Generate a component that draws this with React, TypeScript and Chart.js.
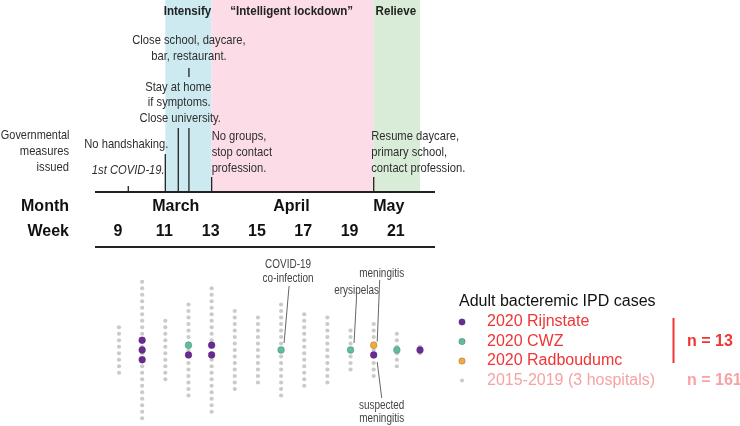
import React, { useEffect, useRef } from 'react';
import { Chart, registerables } from 'chart.js';

Chart.register(...registerables);

// ---------- data ----------
const weeks = [9, 10, 11, 12, 13, 14, 15, 16, 17, 18, 19, 20, 21, 22];
const historicCounts = [8, 22, 10, 15, 20, 13, 11, 15, 12, 11, 7, 9, 6, 2];
const rijnstateCounts = [0, 3, 0, 1, 2, 0, 0, 0, 0, 0, 0, 1, 0, 1];
const cwzCounts = [0, 0, 0, 1, 0, 0, 0, 1, 0, 0, 1, 0, 1, 0];
const radboudCounts = [0, 0, 0, 0, 0, 0, 0, 0, 0, 0, 0, 1, 0, 0];

const weekTickLabels = [9, 11, 13, 15, 17, 19, 21];
const monthLabels = ['March', 'April', 'May'];
const monthWeeks = [11.45, 16.45, 20.65];

const phaseLabels = ['Intensify', '\u201CIntelligent lockdown\u201D', 'Relieve'];
const phaseStarts = [11, 13, 20];
const phaseEnds = [13, 20, 22];

const measureWeeks = [9.4, 11.0, 11.56, 12.02, 13.0, 20.0];

const seriesLabels = ['2020 Rijnstate', '2020 CWZ', '2020 Radboudumc', '2015-2019 (3 hospitals)'];
const totalLabels = ['n = 13', 'n = 161'];

// ---------- styles ----------
const SANS = '"Liberation Sans", Arial, Helvetica, sans-serif';
const PURPLE = '#6b2a93';
const GREEN = '#5dbf98';
const ORANGE = '#f6a93b';
const GREY = '#cacaca';
const PHASE_COLORS = ['#cdeaf1', '#fbdce7', '#d9ecd7'];
const RED = '#ef3535';
const LIGHT_RED = '#f5a3a3';
const INK = '#222222';
const TXT = '#2e2e2e';

function txt(
  ctx: CanvasRenderingContext2D,
  s: string,
  x: number,
  y: number,
  font: string,
  color: string,
  align: CanvasTextAlign = 'center',
  sx = 1
) {
  ctx.save();
  ctx.font = font;
  ctx.fillStyle = color;
  ctx.textAlign = align;
  ctx.textBaseline = 'middle';
  ctx.translate(x, y);
  ctx.scale(sx, 1);
  ctx.fillText(s, 0, 0);
  ctx.restore();
}

function line(ctx: CanvasRenderingContext2D, x1: number, y1: number, x2: number, y2: number, w: number, c: string) {
  ctx.save();
  ctx.strokeStyle = c;
  ctx.lineWidth = w;
  ctx.beginPath();
  ctx.moveTo(x1, y1);
  ctx.lineTo(x2, y2);
  ctx.stroke();
  ctx.restore();
}

export default function App() {
  const ref = useRef<HTMLCanvasElement>(null);

  useEffect(() => {
    const canvas = ref.current!;

    const colored: Record<string, { x: number; y: number }[]> = { rijn: [], cwz: [], radboud: [] };
    weeks.forEach((w, j) => {
      const stack: string[] = [
        ...Array(cwzCounts[j]).fill('cwz'),
        ...Array(radboudCounts[j]).fill('radboud'),
        ...Array(rijnstateCounts[j]).fill('rijn'),
      ];
      const n = stack.length;
      stack.forEach((k, i) => colored[k].push({ x: w, y: ((n - 1) / 2 - i) * 1.5 }));
    });
    const greyPts: { x: number; y: number }[] = [];
    weeks.forEach((w, j) => {
      const n = historicCounts[j];
      for (let i = 0; i < n; i++) greyPts.push({ x: w, y: (n - 1) / 2 - i });
    });

    const annot = {
      id: 'annot',
      beforeDatasetsDraw(chart: any) {
        const ctx: CanvasRenderingContext2D = chart.ctx;
        const X = (v: number) => chart.scales.x.getPixelForValue(v);
        phaseStarts.forEach((s, i) => {
          ctx.fillStyle = PHASE_COLORS[i];
          ctx.fillRect(X(s), 0, X(phaseEnds[i]) - X(s), 192);
        });
      },
      afterDraw(chart: any) {
        const ctx: CanvasRenderingContext2D = chart.ctx;
        const X = (v: number) => chart.scales.x.getPixelForValue(v);
        const Y = (v: number) => chart.scales.y.getPixelForValue(v);

        // phase titles
        phaseLabels.forEach((l, i) => {
          txt(ctx, l, (X(phaseStarts[i]) + X(phaseEnds[i])) / 2 - 1, 11, `bold 13px ${SANS}`, INK, 'center', 0.89);
        });

        // axis lines
        line(ctx, 95, 192, 435, 192, 2, INK);
        line(ctx, 95, 247, 435, 247, 2, INK);

        // measure ticks
        const tk = (w: number, y1: number) => line(ctx, X(w), y1, X(w), 192, 1.3, INK);
        tk(measureWeeks[0], 186);
        tk(measureWeeks[1], 154);
        tk(measureWeeks[2], 128);
        tk(measureWeeks[3], 128);
        tk(measureWeeks[4], 177);
        tk(measureWeeks[5], 177);
        line(ctx, X(measureWeeks[3]), 68, X(measureWeeks[3]), 77, 1.3, INK);

        const AF = `13.5px ${SANS}`;
        const SX = 0.83;
        txt(ctx, 'Governmental', 69.5, 135, AF, TXT, 'right', 0.81);
        txt(ctx, 'measures', 69, 151, AF, TXT, 'right', SX);
        txt(ctx, 'issued', 69, 167, AF, TXT, 'right', SX);
        txt(ctx, '1st COVID-19.', X(measureWeeks[0]), 170, `italic 13.5px ${SANS}`, TXT, 'center', SX);
        txt(ctx, 'No handshaking.', X(measureWeeks[1]) + 3, 144, AF, TXT, 'right', SX);
        const cs = X(measureWeeks[2]);
        txt(ctx, 'Stay at home', cs, 87, AF, TXT, 'center', SX);
        txt(ctx, 'if symptoms.', cs + 1, 102.5, AF, TXT, 'center', SX);
        txt(ctx, 'Close university.', cs + 2, 118, AF, TXT, 'center', SX);
        const cl = X(measureWeeks[3]);
        txt(ctx, 'Close school, daycare,', cl, 40, AF, TXT, 'center', SX);
        txt(ctx, 'bar, restaurant.', cl, 56, AF, TXT, 'center', SX);
        const ng = X(measureWeeks[4]);
        txt(ctx, 'No groups,', ng, 136, AF, TXT, 'left', SX);
        txt(ctx, 'stop contact', ng, 152, AF, TXT, 'left', SX);
        txt(ctx, 'profession.', ng, 168, AF, TXT, 'left', SX);
        const rs = X(measureWeeks[5]) - 2.5;
        txt(ctx, 'Resume daycare,', rs, 136, AF, TXT, 'left', SX);
        txt(ctx, 'primary school,', rs, 152, AF, TXT, 'left', SX);
        txt(ctx, 'contact profession.', rs, 168, AF, TXT, 'left', SX);

        // Month / week rows
        const BF = `bold 16px ${SANS}`;
        txt(ctx, 'Month', 69, 207, BF, '#111', 'right');
        txt(ctx, 'Week', 69, 232, BF, '#111', 'right');
        monthLabels.forEach((m, i) => txt(ctx, m, X(monthWeeks[i]), 207, BF, '#111'));
        weekTickLabels.forEach((w) => txt(ctx, String(w), X(w) - 1, 232, BF, '#111'));

        // dot annotations
        const DF = `12px ${SANS}`;
        const DC = '#444';
        const lw = 0.9;
        const c16x = X(16), c0 = Y(0);
        txt(ctx, 'COVID-19', c16x + 7, 265, DF, DC, 'center', SX);
        txt(ctx, 'co-infection', c16x + 7, 279, DF, DC, 'center', SX);
        line(ctx, c16x + 8, 286, c16x + 3, c0 - 7, lw, '#555');

        const c19x = X(19);
        txt(ctx, 'erysipelas', c19x + 6, 291, DF, DC, 'center', SX);
        line(ctx, c19x + 6, 297, c19x + 3.5, c0 - 7, lw, '#555');

        const c20x = X(20);
        txt(ctx, 'meningitis', c20x + 8, 274, DF, DC, 'center', SX);
        line(ctx, c20x + 6, 280, c20x + 3.5, Y(0.75) - 3.5, lw, '#555');
        line(ctx, c20x + 3.5, Y(-0.75) + 7, c20x + 8, 398, lw, '#555');
        txt(ctx, 'suspected', c20x + 8, 406, DF, DC, 'center', SX);
        txt(ctx, 'meningitis', c20x + 8, 419, DF, DC, 'center', SX);

        // legend
        const LF = `16px ${SANS}`;
        txt(ctx, 'Adult bacteremic IPD cases', 459, 302, LF, '#111', 'left');
        const rows = [322, 341.5, 361, 380.5];
        const dotColors = [PURPLE, GREEN, ORANGE, GREY];
        rows.forEach((ry, i) => {
          ctx.save();
          ctx.beginPath();
          ctx.arc(462, ry, i === 3 ? 2 : 3.2, 0, Math.PI * 2);
          ctx.fillStyle = dotColors[i];
          ctx.fill();
          if (i < 3) {
            ctx.strokeStyle = 'rgba(70,70,70,0.5)';
            ctx.lineWidth = 0.6;
            ctx.stroke();
          }
          ctx.restore();
          txt(ctx, seriesLabels[i], 487, ry, LF, i === 3 ? LIGHT_RED : RED, 'left');
        });
        line(ctx, 673.5, 318, 673.5, 363, 2, RED);
        txt(ctx, totalLabels[0], 687, 341.5, `bold 16px ${SANS}`, RED, 'left');
        txt(ctx, totalLabels[1], 687, 380.5, `bold 16px ${SANS}`, LIGHT_RED, 'left');
      },
    };

    const chart = new Chart(canvas, {
      type: 'scatter',
      data: {
        datasets: [
          {
            label: seriesLabels[0],
            data: colored.rijn,
            pointRadius: 3.4,
            pointBackgroundColor: PURPLE,
            pointBorderColor: 'rgba(60,30,80,0.6)',
            pointBorderWidth: 0.5,
          },
          {
            label: seriesLabels[1],
            data: colored.cwz,
            pointRadius: 3.4,
            pointBackgroundColor: GREEN,
            pointBorderColor: 'rgba(70,90,80,0.6)',
            pointBorderWidth: 0.5,
          },
          {
            label: seriesLabels[2],
            data: colored.radboud,
            pointRadius: 3.4,
            pointBackgroundColor: ORANGE,
            pointBorderColor: 'rgba(110,80,40,0.6)',
            pointBorderWidth: 0.5,
          },
          {
            label: seriesLabels[3],
            data: greyPts,
            pointRadius: 2.1,
            pointBackgroundColor: GREY,
            pointBorderWidth: 0,
          },
        ],
      },
      options: {
        responsive: false,
        animation: false,
        events: [],
        layout: { padding: 0, autoPadding: false },
        plugins: { legend: { display: false }, tooltip: { enabled: false } },
        scales: {
          x: { type: 'linear', min: 3.86, max: 35.82, display: false },
          y: { type: 'linear', min: -11.69, max: 53.85, display: false },
        },
      },
      plugins: [annot],
    });
    return () => chart.destroy();
  }, []);

  return (
    <div style={{ position: 'fixed', left: 0, top: 0, width: 740, height: 426, background: '#fff' }}>
      <canvas ref={ref} width={740} height={426} style={{ display: 'block' }} />
    </div>
  );
}
